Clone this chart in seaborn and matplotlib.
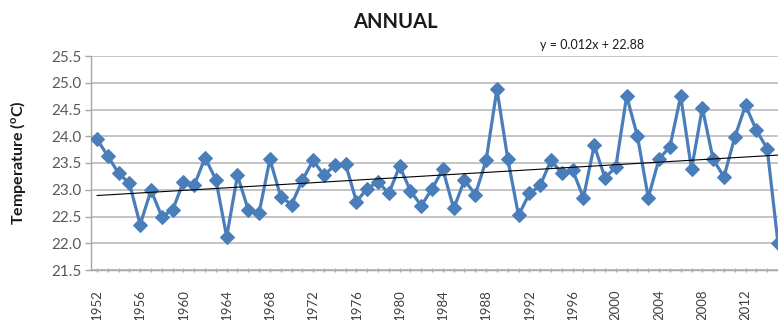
import numpy as np
import pandas as pd
import matplotlib
matplotlib.use("Agg")
import matplotlib.pyplot as plt
from matplotlib.ticker import MultipleLocator, FixedLocator
import seaborn as sns

# Annual mean temperature series
years = list(range(1952, 2016))
temps = [
    23.95, 23.63, 23.31, 23.12, 22.35, 22.99, 22.50, 22.62, 23.15, 23.08,
    23.60, 23.19, 22.12, 23.27, 22.62, 22.57, 23.57, 22.87, 22.72, 23.18,
    23.55, 23.27, 23.46, 23.48, 22.78, 23.02, 23.15, 22.93, 23.44, 22.98,
    22.70, 23.02, 23.38, 22.65, 23.18, 22.91, 23.55, 24.88, 23.58, 22.52,
    22.93, 23.08, 23.55, 23.31, 23.37, 22.85, 23.83, 23.22, 23.43, 24.75,
    24.00, 22.85, 23.58, 23.80, 24.75, 23.38, 24.53, 23.57, 23.24, 23.98,
    24.58, 24.11, 23.77, 22.00,
]
# Linear trend y = slope * n + intercept, n = 1 for the first year
slope = 0.012
intercept = 22.88
y_ticks = [21.5, 22.0, 22.5, 23.0, 23.5, 24.0, 24.5, 25.0, 25.5]
label_years = list(range(1952, 2016, 4))

df = pd.DataFrame({"year": years, "temp": temps})
n = np.arange(1, len(years) + 1)
trend = pd.DataFrame({"year": years, "trend": slope * n + intercept})

sns.set_theme(style="white")
plt.rcParams["font.family"] = ["Lato", "DejaVu Sans"]
plt.rcParams["mathtext.fontset"] = "custom"
plt.rcParams["mathtext.bf"] = "Lato:bold"
plt.rcParams["mathtext.rm"] = "Lato:bold"
plt.rcParams["mathtext.default"] = "bf"

fig = plt.figure(figsize=(7.78, 3.2), dpi=100)
ax = fig.add_axes([91 / 778, 1 - 270 / 320, 1 - 91 / 778, (270 - 56) / 320])

blue = "#4A7EBB"
sns.lineplot(data=df, x="year", y="temp", ax=ax, color=blue, linewidth=2.3,
             marker="D", markersize=6.8, markeredgecolor=blue,
             markerfacecolor=blue, zorder=3)
sns.lineplot(data=trend, x="year", y="trend", ax=ax, color="black",
             linewidth=0.8, zorder=4)

ax.set_xlim(1951.45, 2015.0)
ax.set_ylim(21.5, 25.5)
ax.set_yticks(y_ticks)
ax.set_yticklabels([f"{v:.1f}" for v in y_ticks])
ax.xaxis.set_major_locator(FixedLocator(label_years))
ax.xaxis.set_minor_locator(MultipleLocator(1))
ax.set_xticklabels([str(y) for y in label_years], rotation=90)

ax.grid(axis="y", color="#C4C4C4", linewidth=1.4, zorder=0)
ax.grid(axis="x", visible=False)
for side in ("top", "right"):
    ax.spines[side].set_visible(False)
for side in ("left", "bottom"):
    ax.spines[side].set_color("#A6A6A6")
    ax.spines[side].set_linewidth(1.0)

ax.tick_params(axis="y", which="major", direction="out", length=4,
               width=1, color="#A6A6A6", labelsize=11, labelcolor="#595959",
               pad=3, left=True)
ax.tick_params(axis="x", which="both", direction="inout", length=3.5,
               width=1, color="#A6A6A6", bottom=True)
ax.tick_params(axis="x", which="major", labelsize=9.5, labelcolor="#404040",
               pad=12)

ax.set_xlabel("")
ax.set_ylabel("")
fig.text(18 / 778, 1 - 163 / 320, "Temperature ($^{o}$C)", rotation=90,
         ha="center", va="center", fontsize=11.5, fontweight="bold",
         color="#1a1a1a")

fig.text(395 / 778, 1 - 22 / 320, "ANNUAL", ha="center", va="center",
         fontsize=14.5, fontweight="bold", color="#1a1a1a")
fig.text(540 / 778, 1 - 45 / 320, f"y = {slope}x + {intercept}",
         ha="left", va="center", fontsize=9, color="#1a1a1a")

fig.savefig("out.png", dpi=100)
